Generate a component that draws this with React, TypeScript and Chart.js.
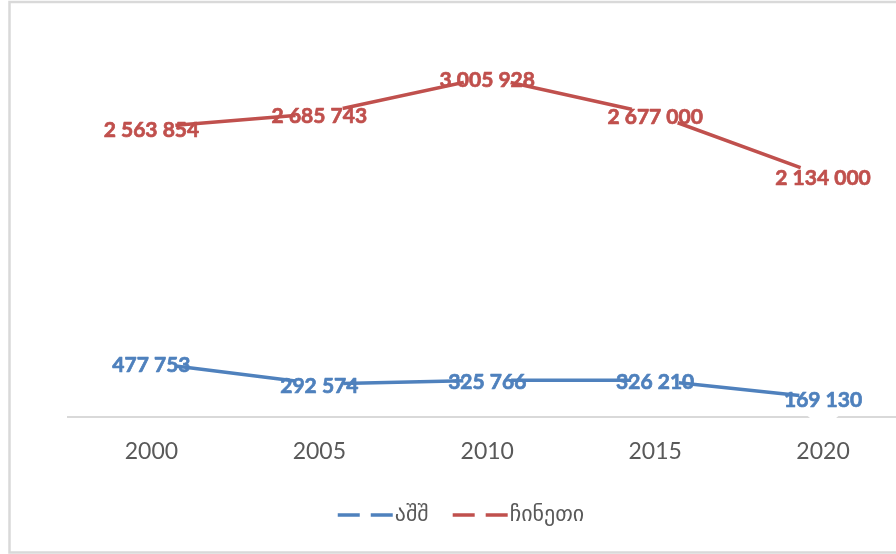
import React, { useEffect, useRef } from "react";
import { Chart, registerables } from "chart.js";

Chart.register(...registerables);

const years = ["2000", "2005", "2010", "2015", "2020"];
const usaValues = [477753, 292574, 325766, 326210, 169130];
const chinaValues = [2563854, 2685743, 3005928, 2677000, 2134000];
const seriesNames = ["აშშ", "ჩინეთი"];
const seriesColors = ["#4F81BD", "#C0504D"];
const yMin = 0;
const yMax = 3500000;

const W = 920;
const H = 554;

function fmt(v: number): string {
  return String(v).replace(/\B(?=(\d{3})+(?!\d))/g, " ");
}

const framePlugin = {
  id: "frame",
  beforeDraw(chart: any) {
    const ctx = chart.ctx;
    ctx.save();
    ctx.fillStyle = "#ffffff";
    ctx.fillRect(0, 0, chart.width, chart.height);
    ctx.strokeStyle = "#d9d9d9";
    ctx.lineWidth = 2.5;
    ctx.beginPath();
    ctx.moveTo(W + 10, 2);
    ctx.lineTo(9.5, 2);
    ctx.lineTo(9.5, 552.5);
    ctx.lineTo(W + 10, 552.5);
    ctx.stroke();
    ctx.restore();
  },
};

const labelsPlugin = {
  id: "pointLabels",
  afterDatasetsDraw(chart: any) {
    const ctx = chart.ctx;
    ctx.save();
    ctx.font = "bold 21px Lato, 'DejaVu Sans', sans-serif";
    ctx.textAlign = "center";
    ctx.textBaseline = "middle";
    ctx.lineWidth = 0.7;
    ctx.lineJoin = "round";
    chart.data.datasets.forEach((ds: any, i: number) => {
      const meta = chart.getDatasetMeta(i);
      ctx.fillStyle = ds.borderColor;
      ctx.strokeStyle = ds.borderColor;
      meta.data.forEach((el: any, j: number) => {
        const t = fmt(ds.data[j]);
        ctx.fillText(t, el.x, el.y + 2.5);
        ctx.strokeText(t, el.x, el.y + 2.5);
      });
    });
    ctx.restore();
  },
};

const legendPlugin = {
  id: "customLegend",
  afterDraw(chart: any) {
    const ctx = chart.ctx;
    ctx.save();
    ctx.font = "22px 'DejaVu Sans', Lato, sans-serif";
    ctx.textBaseline = "middle";
    const sampleW = 55;
    const gapText = 2;
    const itemGap = 24;
    const items = chart.data.datasets.map((ds: any) => ({
      label: ds.label,
      color: ds.borderColor,
      w: sampleW + gapText + ctx.measureText(ds.label).width,
    }));
    const total = items.reduce((s: number, it: any) => s + it.w, 0) + itemGap * (items.length - 1);
    let x = 461 - total / 2;
    const y = 515;
    items.forEach((it: any) => {
      ctx.strokeStyle = it.color;
      ctx.lineWidth = 3.5;
      ctx.lineCap = "butt";
      ctx.beginPath();
      ctx.moveTo(x, y);
      ctx.lineTo(x + 22, y);
      ctx.moveTo(x + 33, y);
      ctx.lineTo(x + sampleW, y);
      ctx.stroke();
      ctx.fillStyle = "#595959";
      ctx.textAlign = "left";
      ctx.fillText(it.label, x + sampleW + gapText, y);
      x += it.w + itemGap;
    });
    ctx.restore();
  },
};

export default function App() {
  const canvasRef = useRef<HTMLCanvasElement | null>(null);

  useEffect(() => {
    document.body.style.margin = "0";
    document.body.style.overflow = "hidden";
    const canvas = canvasRef.current;
    if (!canvas) return;
    const makeDs = (label: string, data: number[], color: string) => ({
      label,
      data,
      borderColor: color,
      backgroundColor: color,
      borderWidth: 3.5,
      pointRadius: 24,
      pointHoverRadius: 24,
      pointBackgroundColor: "#ffffff",
      pointBorderColor: "#ffffff",
      pointBorderWidth: 0,
      tension: 0,
      clip: false as any,
    });
    const chart = new Chart(canvas, {
      type: "line",
      data: {
        labels: years,
        datasets: [
          makeDs(seriesNames[0], usaValues, seriesColors[0]),
          makeDs(seriesNames[1], chinaValues, seriesColors[1]),
        ],
      },
      options: {
        animation: false,
        responsive: false,
        devicePixelRatio: 1,
        events: [],
        layout: {
          autoPadding: false,
          padding: { left: 67.5, right: W - 907, top: 21.5, bottom: 0 },
        },
        plugins: {
          legend: { display: false },
          tooltip: { enabled: false },
          title: { display: false },
        },
        scales: {
          x: {
            type: "category",
            offset: true,
            grid: { display: false, drawTicks: false },
            border: { display: true, color: "#d9d9d9", width: 2 },
            ticks: {
              color: "#595959",
              padding: 21,
              font: { family: "Lato, 'DejaVu Sans', sans-serif", size: 23 },
              maxRotation: 0,
            },
            afterFit(scale: any) {
              scale.height = H - 417;
            },
          },
          y: {
            display: false,
            min: yMin,
            max: yMax,
          },
        },
      },
      plugins: [framePlugin, labelsPlugin, legendPlugin],
    });
    return () => chart.destroy();
  }, []);

  return (
    <div style={{ position: "fixed", left: 0, top: 0, width: 896, height: 554, overflow: "hidden", background: "#fff" }}>
      <canvas ref={canvasRef} width={W} height={H} style={{ width: W, height: H, display: "block" }} />
    </div>
  );
}
